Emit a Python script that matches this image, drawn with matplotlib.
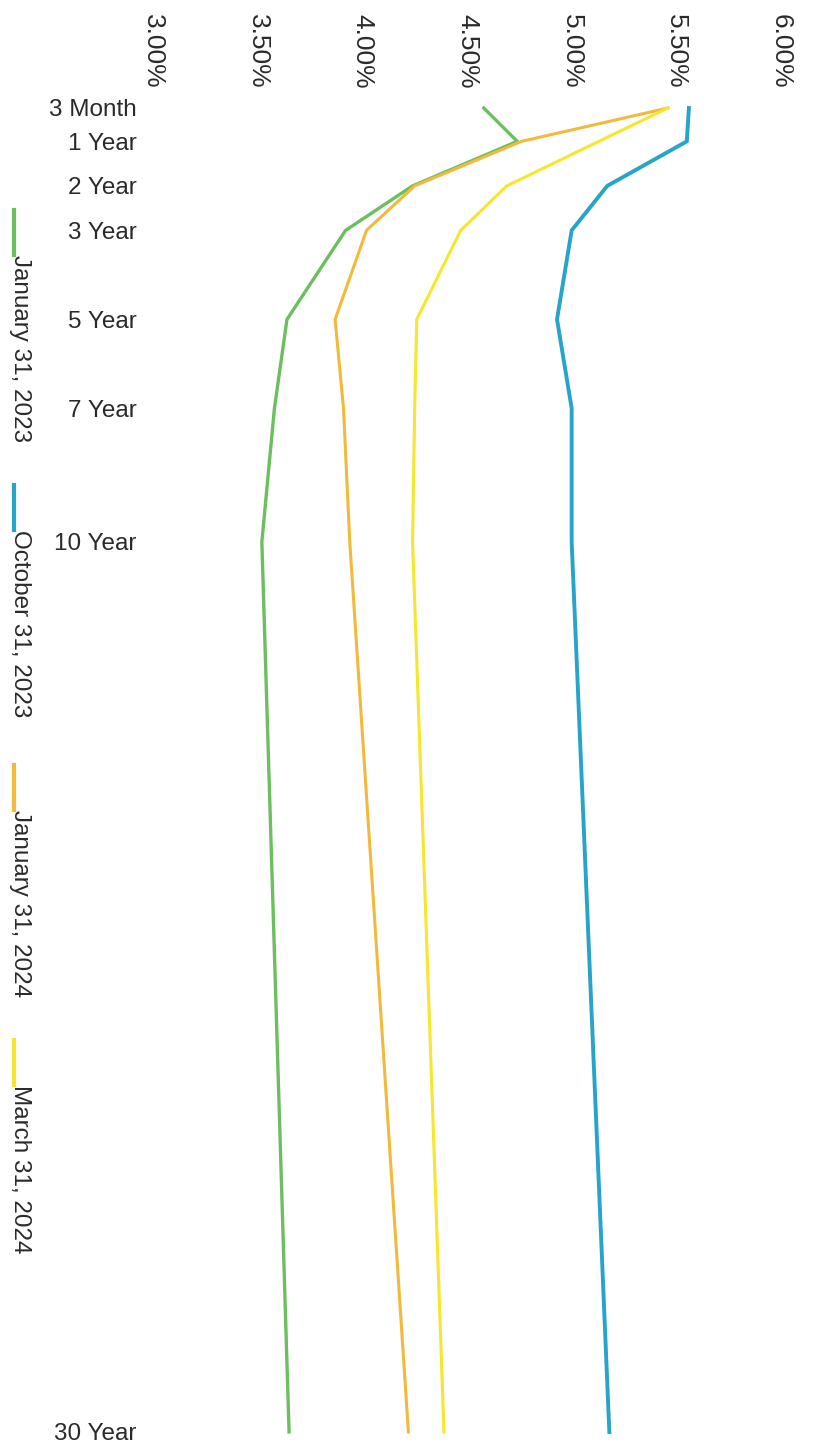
import matplotlib
matplotlib.use("Agg")
import matplotlib.pyplot as plt
from matplotlib.lines import Line2D

plt.rcParams['font.family'] = ['Liberation Sans', 'DejaVu Sans']

maturity_years = [0.25, 1, 2, 3, 5, 7, 10, 30]
maturity_labels = ["3 Month", "1 Year", "2 Year", "3 Year", "5 Year", "7 Year", "10 Year", "30 Year"]

series_names = ["January 31, 2023", "October 31, 2023", "January 31, 2024", "March 31, 2024"]
jan_2023 = [4.58, 4.74, 4.24, 3.92, 3.64, 3.58, 3.52, 3.65]
oct_2023 = [5.56, 5.55, 5.17, 5.00, 4.93, 5.00, 5.00, 5.18]
jan_2024 = [5.46, 4.76, 4.25, 4.02, 3.87, 3.91, 3.94, 4.22]
mar_2024 = [5.46, 5.13, 4.69, 4.47, 4.26, 4.25, 4.24, 4.39]
series_values = [jan_2023, oct_2023, jan_2024, mar_2024]

rate_ticks = [3.0, 3.5, 4.0, 4.5, 5.0, 5.5, 6.0]
rate_tick_labels = ["3.00%", "3.50%", "4.00%", "4.50%", "5.00%", "5.50%", "6.00%"]

colors = ["#6cbf5e", "#27a4c9", "#f3b93c", "#f6e62c"]
widths = [2.4, 2.8, 2.2, 2.2]

W, H = 822, 1445
fig = plt.figure(figsize=(W / 100, H / 100), dpi=100)
ax = fig.add_axes([153 / W, 1 - 1432 / H, (781 - 153) / W, (1432 - 108) / H])

for vals, c, lw in zip(series_values, colors, widths):
    ax.plot(vals, maturity_years, color=c, lw=lw, solid_joinstyle='miter',
            zorder=3, clip_on=False)

ax.set_xlim(3.0, 6.0)
ax.set_ylim(30, 0.25)
ax.set_xticks(rate_ticks)
ax.set_xticklabels(rate_tick_labels, rotation=-90, fontsize=19, color="#2a2a2a")
ax.xaxis.tick_top()
ax.set_yticks(maturity_years)
ax.set_yticklabels(maturity_labels, fontsize=17.5, color="#2a2a2a")
ax.tick_params(axis='both', length=0)
ax.tick_params(axis='x', pad=14)
ax.tick_params(axis='y', pad=12)
for s in ax.spines.values():
    s.set_visible(False)

# manual rotated legend on the left
leg_starts = [210, 485, 765, 1040]
for name, c, y0 in zip(series_names, colors, leg_starts):
    fig.add_artist(Line2D([14 / W, 14 / W], [1 - y0 / H, 1 - (y0 + 45) / H],
                          color=c, lw=3, transform=fig.transFigure))
    fig.text(20 / W, 1 - (y0 + 45) / H, name, rotation=-90, ha='center', va='top',
             fontsize=17.5, color="#2a2a2a")

fig.savefig("out.png", dpi=100, facecolor="white")
